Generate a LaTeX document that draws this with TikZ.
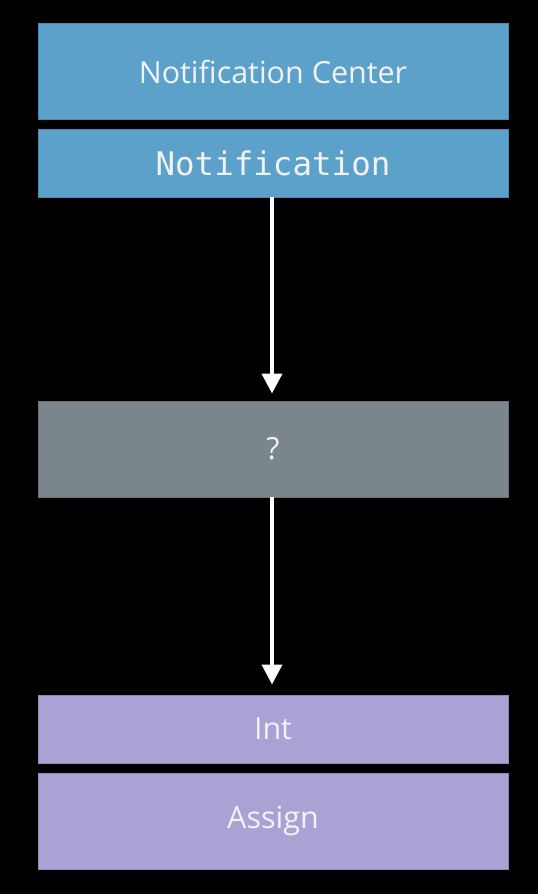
\documentclass[tikz,border=0pt]{standalone}
\usepackage{fontspec}
\setmainfont{Open Sans}
\newfontfamily\monof{DejaVu Sans Mono}
\usetikzlibrary{arrows.meta}
\definecolor{nblue}{RGB}{91,161,201}
\definecolor{ngray}{RGB}{122,134,140}
\definecolor{npurple}{RGB}{170,161,212}
\definecolor{ntext}{RGB}{242,242,245}
\tikzset{
  x=1pt,y=-1pt,
  boxstyle/.style={anchor=north west,minimum width=470pt,inner sep=0pt,outer sep=0pt,
    text=ntext,font=\fontsize{30.5}{34}\selectfont},
  bluebox/.style={boxstyle,fill=nblue,draw=nblue!85!black,line width=0.6pt},
  graybox/.style={boxstyle,fill=ngray,draw=ngray!85!black,line width=0.6pt},
  purplebox/.style={boxstyle,fill=npurple,draw=npurple!85!black,line width=0.6pt},
  flowarrow/.style={draw=white,line width=4pt,-{Triangle[width=20pt,length=20pt]}}
}
\begin{document}
\begin{tikzpicture}
\fill[black] (0,0) rectangle (538,894);
\useasboundingbox (0,0) rectangle (538,894);
\node[bluebox,minimum height=96pt] (nc) at (38,23.5) {Notification Center};
\node[bluebox,minimum height=68pt,font=\monof\fontsize{32.5}{35}\selectfont] (notif) at (38,129) {Notification};
\node[graybox,minimum height=96pt] (q) at (38,401) {?};
\node[purplebox,minimum height=68pt] (int) at (38,695) {Int};
\node[purplebox,minimum height=96pt] (assign) at (38,773) {Assign};
\draw[flowarrow,shorten >=7.5pt] ([xshift=-1pt]notif.south) -- ([xshift=-1pt]q.north);
\draw[flowarrow,shorten >=10.5pt] ([xshift=-1pt]q.south) -- ([xshift=-1pt]int.north);
\end{tikzpicture}
\end{document}
